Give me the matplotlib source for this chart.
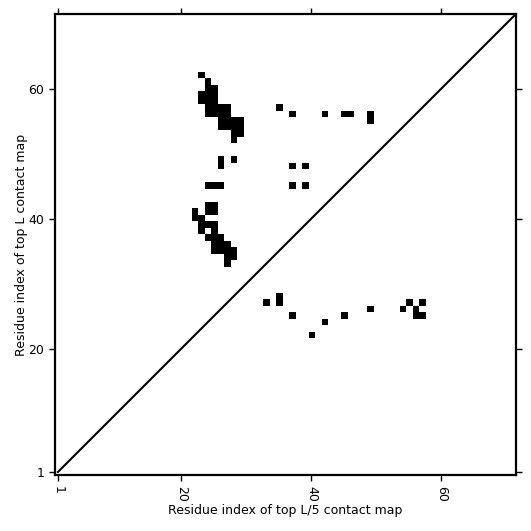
import numpy as np
import matplotlib
matplotlib.use("Agg")
from matplotlib import pyplot as plt

# sequence length
L = 71

# top L contacts (upper triangle): x residue, y residue
top_l_x = [23, 24, 24, 25, 23, 24, 25, 23, 24, 25,
           24, 25, 26, 27, 24, 25, 26, 27,
           26, 27, 28, 29, 26, 27, 28, 29, 28, 29, 28,
           26, 28, 26, 24, 25, 26,
           24, 25, 22, 24, 25, 22, 23, 23, 24, 25, 23, 25,
           24, 25, 26, 25, 26, 27, 25, 26, 27, 28, 27, 28, 27,
           35, 37, 42, 45, 46, 49, 49, 37, 39, 37, 39]
top_l_y = [62, 61, 60, 60, 59, 59, 59, 58, 58, 58,
           57, 57, 57, 57, 56, 56, 56, 56,
           55, 55, 55, 55, 54, 54, 54, 54, 53, 53, 52,
           49, 49, 48, 45, 45, 45,
           42, 42, 41, 41, 41, 40, 40, 39, 39, 39, 38, 38,
           37, 37, 37, 36, 36, 36, 35, 35, 35, 35, 34, 34, 33,
           57, 56, 56, 56, 56, 56, 55, 48, 48, 45, 45]

# top L/5 contacts (lower triangle)
top_l5_x = [33, 35, 35, 37, 40, 42, 45, 49, 54, 55, 57, 56, 56, 57]
top_l5_y = [27, 28, 27, 25, 22, 24, 25, 26, 26, 27, 27, 26, 25, 25]

ticks = [1, 20, 40, 60]

cmap = np.zeros((L, L))
for x, y in zip(top_l_x, top_l_y):
    cmap[y - 1, x - 1] = 1
for x, y in zip(top_l5_x, top_l5_y):
    cmap[y - 1, x - 1] = 1

fig = plt.figure(figsize=(5.31, 5.31), dpi=100)
ax = fig.add_axes([0.103, 0.105, 0.869, 0.869])
ax.imshow(cmap, cmap='Greys', vmin=0, vmax=1, origin='lower',
          extent=(0.5, L + 0.5, 0.5, L + 0.5), interpolation='nearest')
ax.plot([1, L + 0.5], [1, L + 0.5], color='black', linewidth=1.5)
ax.set_xlim(0.5, L + 0.5)
ax.set_ylim(0.5, L + 0.5)

ax.set_xticks(ticks)
ax.set_yticks(ticks)
ax.set_xticklabels(ticks, rotation=270, fontsize=9)
ax.set_yticklabels(ticks, fontsize=9)
ax.tick_params(direction='out', length=4, width=1, top=True, right=True)
for s in ax.spines.values():
    s.set_linewidth(1.6)

ax.set_xlabel('Residue index of top L/5 contact map', fontsize=9, labelpad=2)
ax.set_ylabel('Residue index of top L contact map', fontsize=9, labelpad=0)

plt.savefig('out.png', dpi=100)
